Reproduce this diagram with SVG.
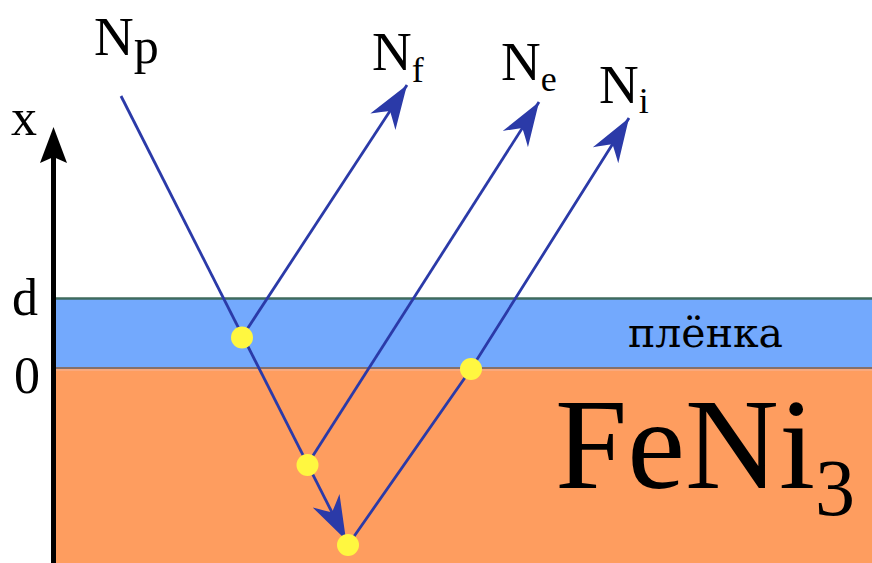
<svg xmlns="http://www.w3.org/2000/svg" width="872" height="563" viewBox="0 0 872 563">
<defs>
<style>
text{fill:#000}
.ray{stroke:#2b3aa8;stroke-width:2.8;fill:none}
.dot{fill:#fff740}
</style>
<marker id="ah" markerUnits="userSpaceOnUse" markerWidth="50" markerHeight="34" viewBox="-46 -17 50 34" refX="0" refY="0" orient="auto">
<path d="M0,0 L-44,-15 Q-36,-6 -31,0 Q-36,6 -44,15 Z" fill="#2b3aa8"/>
</marker>
</defs>
<rect width="872" height="563" fill="#fff"/>
<g id="substrate">
<rect x="56" y="368" width="817" height="196" fill="#fe9d5f"/>
<line x1="56" y1="368" x2="872" y2="368" stroke="#85706a" stroke-width="2"/>
<line x1="56" y1="370" x2="872" y2="370" stroke="#f3b59c" stroke-width="1"/>
</g>
<g id="film">
<rect x="56" y="299" width="817" height="68" fill="#73a9fd"/>
<line x1="56" y1="298.5" x2="872" y2="298.5" stroke="#3f6b5e" stroke-width="2.5"/>
</g>
<g id="axis">
<line x1="53.5" y1="563" x2="53.5" y2="150" stroke="#000" stroke-width="5"/>
<path d="M53.5,127 L40,163 L53.5,157 L67,163 Z" fill="#000"/>
</g>
<g id="connectors">
<line class="ray" x1="121" y1="96" x2="346" y2="540" marker-end="url(#ah)"/>
<line class="ray" x1="242" y1="337" x2="407" y2="85" marker-end="url(#ah)"/>
<line class="ray" x1="307" y1="465" x2="539" y2="102" marker-end="url(#ah)"/>
<polyline class="ray" points="348,545 471,369 629,118" marker-end="url(#ah)"/>
</g>
<g id="dots">
<circle class="dot" cx="242" cy="337.5" r="11"/>
<circle class="dot" cx="307.5" cy="465" r="11"/>
<circle class="dot" cx="348" cy="545" r="11"/>
<circle class="dot" cx="471" cy="369" r="11"/>
</g>
<g id="labels" font-family="'Liberation Serif', 'Times New Roman', 'DejaVu Serif', serif">
<text x="11" y="135" font-size="52">x</text>
<text x="12" y="315" font-size="52">d</text>
<text x="14" y="393" font-size="52">0</text>
<text x="94" y="55" font-size="55">N<tspan font-size="50" dy="8">p</tspan></text>
<text x="372" y="70" font-size="55">N<tspan font-size="36" dy="12">f</tspan></text>
<text x="501" y="80" font-size="55">N<tspan font-size="36" dy="11">e</tspan></text>
<text x="599" y="103" font-size="55">N<tspan font-size="36" dy="10">i</tspan></text>
<text x="628" y="347" font-size="41" font-family="'DejaVu Serif', serif">плёнка</text>
<text x="555" y="488" font-size="130">FeNi<tspan font-size="80" dy="27">3</tspan></text>
</g>
</svg>
